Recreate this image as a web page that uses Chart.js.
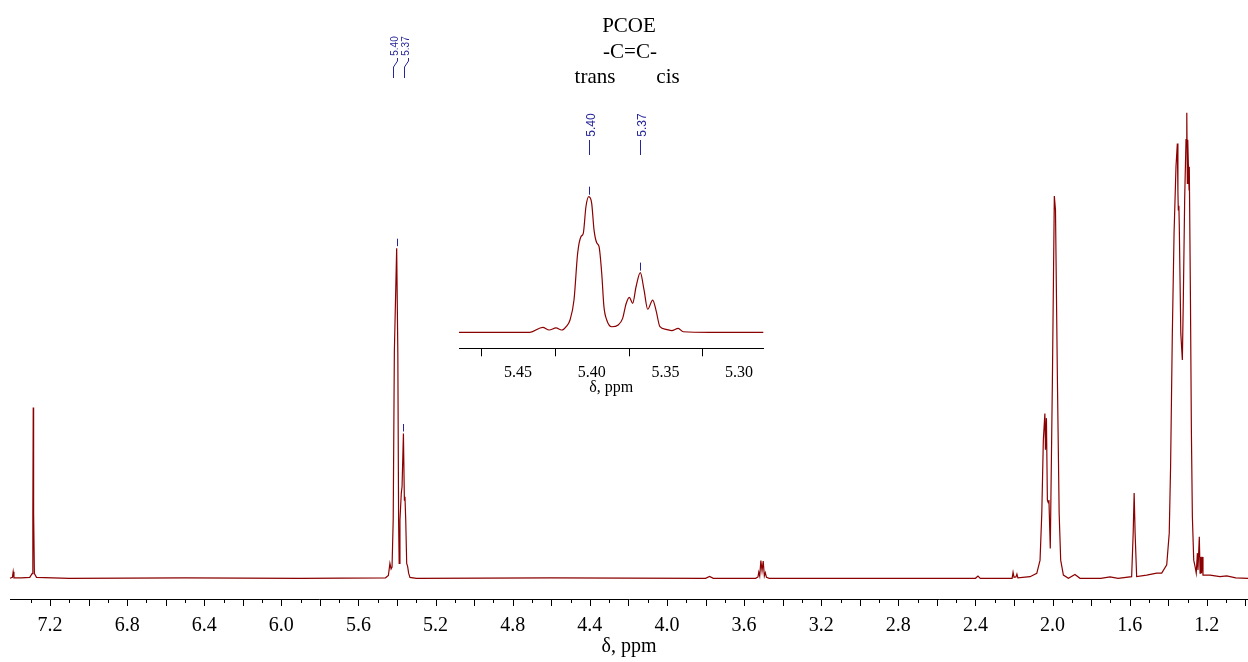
<!DOCTYPE html>
<html>
<head>
<meta charset="utf-8">
<script src="https://cdn.jsdelivr.net/npm/chart.js@4.4.1/dist/chart.umd.min.js"></script>
<style>
  body { margin: 0; background: #fff; }
  #wrap { position: relative; width: 1248px; height: 662px; }
  #spectrum { position: absolute; left: 0; top: 0; }
  #inset { position: absolute; left: 440px; top: 95px; }
  .note {
    position: absolute; transform: translate(-50%, -50%);
    font: 21px "Liberation Serif", "Times New Roman", serif;
    line-height: 1; color: #000; white-space: nowrap;
  }
</style>
</head>
<body>
<div id="wrap">
  <canvas id="spectrum" width="1248" height="662"></canvas>
  <canvas id="inset" width="350" height="305"></canvas>
  <div class="note" style="left:629px; top:25px">PCOE</div>
  <div class="note" style="left:630px; top:51px">-C=C-</div>
  <div class="note" style="left:595px; top:76px">trans</div>
  <div class="note" style="left:668px; top:76px">cis</div>
</div>
<script>
// 1H spectrum of PCOE: shift in ppm, intensity scaled so the CH2 line at 1.30 = 100
const shiftPpm = [
  7.4075, 7.395, 7.391, 7.387, 7.35, 7.305, 7.293, 7.289, 7.287, 7.285, 7.281, 7.27,
  7.1, 6.5, 5.9, 5.46, 5.445, 5.437, 5.431, 5.426, 5.42, 5.414, 5.402, 5.396, 5.392,
  5.389, 5.385, 5.378, 5.374, 5.367, 5.362, 5.359, 5.355, 5.35, 5.345, 5.34, 5.333,
  5.30, 4.6, 3.8, 3.779, 3.76, 3.54, 3.528, 3.524, 3.519, 3.513, 3.507, 3.501, 3.495,
  3.490, 3.484, 3.47, 2.40, 2.387, 2.375, 2.21, 2.205, 2.20, 2.19, 2.185, 2.18, 2.117,
  2.082, 2.065, 2.056, 2.048, 2.040, 2.037, 2.032, 2.027, 2.022, 2.019, 2.012, 2.001,
  1.991, 1.985, 1.975, 1.966, 1.958, 1.944, 1.918, 1.884, 1.858, 1.75, 1.702, 1.66,
  1.590, 1.582, 1.577, 1.572, 1.564, 1.512, 1.460, 1.434, 1.408, 1.395, 1.388, 1.379,
  1.370, 1.360, 1.353, 1.350, 1.348, 1.345, 1.343, 1.335, 1.327, 1.322, 1.315, 1.308,
  1.304, 1.301, 1.299, 1.296, 1.292, 1.291, 1.285, 1.280, 1.275, 1.268, 1.261, 1.255,
  1.249, 1.246, 1.239, 1.235, 1.232, 1.228, 1.225, 1.220, 1.183, 1.132, 1.097, 1.05, 0.9865
];
const intensity = [
  0, 0.2, 1.4, 0.1, 0.1, 0.2, 1.0, 14, 36.7, 14, 1.0, 0.2,
  0, 0.1, 0, 0.1, 0.6, 3.2, 2.0, 2.4, 12.5, 48.7, 70.9, 48.4, 12.5,
  3.2, 12.5, 18.3, 19.7, 31.1, 16.8, 17.5, 12.5, 3.2, 2.5, 1.1, 0.2,
  0, 0.1, 0, 0.4, 0, 0, 0.3, 1.3, 0.5, 3.8, 1.6, 3.7, 0.5,
  1.2, 0.2, 0, 0, 0.5, 0, 0, 1.3, 0.2, 0.3, 0.9, 0.1, 0.35,
  1.07, 3.9, 14, 29.7, 35.4, 27.6, 34.4, 16.8, 16.2, 16.8, 6.4, 42.6,
  82.1, 79.1, 42.6, 14, 3.9, 0.7, 0, 0.8, 0, 0, 0.3, 0,
  0.35, 9.7, 18.3, 9.7, 0.35, 0.7, 1.1, 1.1, 2.9, 9.7, 24, 52.6,
  74.1, 88.4, 93.4, 83, 79.1, 80, 76, 52.6, 46.9, 59.8, 81.3, 94.2,
  100, 84.8, 94.2, 89.1, 83.4, 88.4, 59.8, 31.1, 13.2, 3.9, 2.5, 1.1,
  5.4, 1.8, 8.9, 1.1, 4.6, 1.1, 4.6, 0.7, 0.7, 0.35, 0.5, 0.1, 0
];

// expanded olefinic region, intensity scaled so the trans line = 100
const insetShift = [
  5.49, 5.4419, 5.4332, 5.4288, 5.4242, 5.4204, 5.417, 5.4147, 5.412, 5.4095, 5.4073,
  5.4057, 5.4039, 5.402, 5.40, 5.3984, 5.3966, 5.395, 5.3932, 5.3917, 5.3898, 5.3864,
  5.382, 5.379, 5.3767, 5.3745, 5.3722, 5.3699, 5.367, 5.3645, 5.362, 5.3586, 5.3564,
  5.3537, 5.3496, 5.3457, 5.3413, 5.3379, 5.32, 5.2836
];
const insetIntensity = [
  0, 0, 3.7, 1.7, 3.2, 1.7, 4.6, 9.1, 23.8, 58.5, 70.5,
  73, 92.6, 100, 95.1, 75.4, 66.1, 63.1, 43.5, 18.9, 9.1, 4.1,
  5.4, 10.3, 20.9, 25.8, 21.4, 33.6, 44, 31.2, 17, 23.8, 16.4,
  4.1, 2.2, 1.2, 2.9, 0.4, 0, 0
];

const olefinShift = [5.402, 5.367]; // trans, cis
const mainRange = [0.9865, 7.4075];
const insetRange = [5.2836, 5.49];

const lineColor = '#8b0000';
const markColor = '#26269a';
const serif = '"Liberation Serif", "Times New Roman", serif';
const sans = '"Liberation Sans", Arial, sans-serif';

const isMultiple = (v, step) => Math.abs(v / step - Math.round(v / step)) < 1e-6;
const toPoints = (xs, ys) => xs.map((x, i) => ({ x, y: ys[i] }));

// tick marks hang below the axis line; longer ones every `longStep`
function tickMarks(shortLen, longLen, longStep, skipStep) {
  return {
    id: 'tickMarks',
    afterDraw(chart) {
      const { ctx, scales: { x } } = chart;
      ctx.save();
      ctx.strokeStyle = '#000';
      ctx.lineWidth = 1;
      x.ticks.forEach(t => {
        if (skipStep && isMultiple(t.value, skipStep)) return;
        const px = Math.round(x.getPixelForValue(t.value)) + 0.5;
        if (px < x.left + 3 || px > x.right + 1) return;
        const len = longStep && isMultiple(t.value, longStep) ? longLen : shortLen;
        ctx.beginPath();
        ctx.moveTo(px, x.top);
        ctx.lineTo(px, x.top + len);
        ctx.stroke();
      });
      ctx.restore();
    }
  };
}

function rotatedLabel(ctx, text, cx, cy, size) {
  ctx.save();
  ctx.translate(cx, cy);
  ctx.rotate(-Math.PI / 2);
  ctx.font = size + 'px ' + sans;
  ctx.textAlign = 'center';
  ctx.textBaseline = 'middle';
  ctx.fillText(text, 0, 0);
  ctx.restore();
}

function segment(ctx, pts) {
  ctx.beginPath();
  pts.forEach(([px, py], i) => i ? ctx.lineTo(px, py) : ctx.moveTo(px, py));
  ctx.stroke();
}

// peak picks on the full spectrum
const mainPeaks = {
  id: 'mainPeaks',
  afterDatasetsDraw(chart) {
    const { ctx, scales: { x, y } } = chart;
    const pix = olefinShift.map(p => x.getPixelForValue(p));
    const mid = (pix[0] + pix[1]) / 2;
    ctx.save();
    ctx.strokeStyle = markColor;
    ctx.fillStyle = markColor;
    ctx.lineWidth = 1;
    olefinShift.forEach((ppm, i) => {
      const px = Math.round(pix[i]) + 0.5;
      const top = y.getPixelForValue(intensity[shiftPpm.indexOf(ppm)]);
      segment(ctx, [[px, top - 9.5], [px, top - 2]]);
      const lx = Math.round(mid + (i ? 5.5 : -5.5)) + 0.5;
      rotatedLabel(ctx, ppm.toFixed(2), lx, 46, 10);
      segment(ctx, [[lx + 2, 58], [lx + 2, 61], [lx - 2, 67], [lx - 2, 78]]);
    });
    ctx.restore();
  }
};

// peak picks on the expansion
const insetPeaks = {
  id: 'insetPeaks',
  afterDatasetsDraw(chart) {
    const { ctx, scales: { x, y } } = chart;
    ctx.save();
    ctx.strokeStyle = markColor;
    ctx.fillStyle = markColor;
    ctx.lineWidth = 1;
    olefinShift.forEach(ppm => {
      const px = Math.round(x.getPixelForValue(ppm)) + 0.5;
      const top = y.getPixelForValue(insetIntensity[insetShift.indexOf(ppm)]);
      segment(ctx, [[px, top - 10], [px, top - 2]]);
      segment(ctx, [[px, 45], [px, 60]]);
      rotatedLabel(ctx, ppm.toFixed(2), px + 2, 30, 12);
    });
    ctx.restore();
  }
};

function spectrumChart(canvas, cfg) {
  return new Chart(canvas, {
    type: 'line',
    data: {
      datasets: [{
        data: toPoints(cfg.xs, cfg.ys),
        borderColor: lineColor,
        borderWidth: cfg.lineWidth,
        pointRadius: 0,
        tension: 0,
        cubicInterpolationMode: cfg.smooth ? 'monotone' : 'default',
        clip: 6
      }]
    },
    options: {
      responsive: false,
      animation: false,
      devicePixelRatio: 1,
      layout: { padding: cfg.padding },
      plugins: { legend: { display: false }, tooltip: { enabled: false } },
      scales: {
        x: {
          type: 'linear',
          reverse: true,
          min: cfg.range[0],
          max: cfg.range[1],
          afterFit: s => {
            s.height = cfg.axisHeight;
            s.paddingLeft = 0;
            s.paddingRight = 0;
          },
          border: { display: true, color: '#000', width: 1 },
          grid: { display: true, drawOnChartArea: false, drawTicks: false },
          ticks: {
            stepSize: cfg.step,
            includeBounds: false,
            autoSkip: false,
            maxRotation: 0,
            minRotation: 0,
            padding: cfg.labelPad,
            color: '#000',
            font: { family: serif, size: cfg.fontSize },
            callback: v => isMultiple(v, cfg.labelStep) ? v.toFixed(cfg.digits) : ''
          },
          title: {
            display: true,
            text: 'δ, ppm',
            color: '#000',
            font: { family: serif, size: cfg.fontSize },
            padding: { top: 0, bottom: cfg.titlePad }
          }
        },
        y: { display: false, min: cfg.yMin, max: 100 }
      }
    },
    plugins: cfg.plugins
  });
}

spectrumChart(document.getElementById('spectrum'), {
  xs: shiftPpm, ys: intensity, range: mainRange, lineWidth: 1.2, smooth: false,
  padding: { top: 112.7, left: 10, right: 0, bottom: 0 },
  axisHeight: 63, step: 0.1, labelStep: 0.4, digits: 1,
  labelPad: 15, titlePad: 3, fontSize: 20, yMin: -4.446,
  plugins: [tickMarks(4, 7, 0.2, 0), mainPeaks]
});

spectrumChart(document.getElementById('inset'), {
  xs: insetShift, ys: insetIntensity, range: insetRange, lineWidth: 1.2, smooth: true,
  padding: { top: 101.7, left: 19, right: 26.7, bottom: 0 },
  axisHeight: 51.7, step: 0.025, labelStep: 0.05, digits: 2,
  labelPad: 15, titlePad: 3, fontSize: 16, yMin: -11.8,
  plugins: [tickMarks(8, 8, 0, 0.05), insetPeaks]
});
</script>
</body>
</html>
